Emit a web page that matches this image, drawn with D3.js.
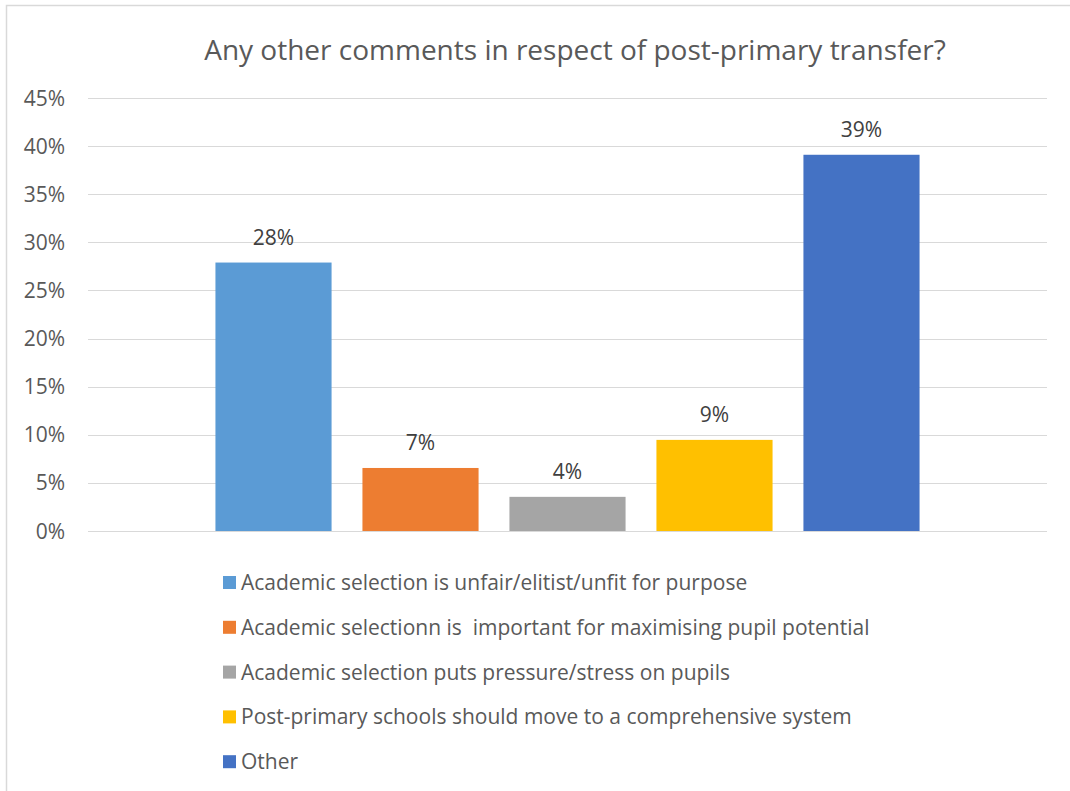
<!DOCTYPE html>
<html>
<head>
<meta charset="utf-8">
<script src="https://cdn.jsdelivr.net/npm/d3@7"></script>
<style>
  body { margin: 0; background: #fff; }
  text { font-family: "Open Sans", Lato, sans-serif; fill: #595959; }
</style>
</head>
<body>
<svg id="chart" width="1070" height="791"></svg>
<script>

// data
var categories = ["Academic selection is unfair/elitist/unfit for purpose",
                  "Academic selectionn is  important for maximising pupil potential",
                  "Academic selection puts pressure/stress on pupils",
                  "Post-primary schools should move to a comprehensive system",
                  "Other"];
var values = [0.279, 0.0655, 0.0355, 0.0947, 0.391];
var colors = ["#5b9bd5", "#ed7d31", "#a5a5a5", "#ffc000", "#4472c4"];
var yTicks = [0, 0.05, 0.10, 0.15, 0.20, 0.25, 0.30, 0.35, 0.40, 0.45];
var title = "Any other comments in respect of post-primary transfer?";

var svg = d3.select("#chart");

// chart border (only top and left edges are in the picture)
svg.append("path")
   .attr("d", "M6.5,791V5.5H1070")
   .attr("fill", "none")
   .attr("stroke", "#d9d9d9")
   .attr("stroke-width", 1.5);

var margin = {left: 88, right: 23, top: 98, bottom: 260};
var width = 1070 - margin.left - margin.right;
var innerHeight = 791 - margin.top - margin.bottom;

var g = svg.append("g").attr("transform", "translate(" + margin.left + "," + margin.top + ")");

var yScale = d3.scaleLinear().domain([0, 0.45]).range([innerHeight, 0]);

// one category, five series side by side
var xGroup = d3.scaleBand().domain(["all"]).range([0, width]).paddingInner(0).paddingOuter(0.181);
var xScale = d3.scaleBand().domain(d3.range(values.length))
               .range([xGroup("all"), xGroup("all") + xGroup.bandwidth()])
               .paddingInner(0.21).paddingOuter(0);

// gridlines
g.selectAll(".grid")
 .data(yTicks)
 .enter()
 .append("line")
 .attr("class", "grid")
 .attr("x1", 0).attr("x2", width)
 .attr("y1", d => Math.round(yScale(d)) + 0.5)
 .attr("y2", d => Math.round(yScale(d)) + 0.5)
 .attr("stroke", "#d9d9d9")
 .attr("stroke-width", 1);

// y axis labels
g.selectAll(".y-label")
 .data(yTicks)
 .enter()
 .append("text")
 .attr("class", "y-label")
 .attr("text-anchor", "end")
 .attr("x", -23)
 .attr("y", d => yScale(d) + 7.5)
 .style("font-size", "21px")
 .text(d => d3.format(".0%")(d));

// bars
g.selectAll(".bar")
 .data(values)
 .enter()
 .append("rect")
 .attr("class", "bar")
 .attr("x", (d, i) => xScale(i))
 .attr("width", xScale.bandwidth())
 .attr("y", d => yScale(d))
 .attr("height", d => innerHeight - yScale(d))
 .attr("fill", (d, i) => colors[i]);

// value labels
g.selectAll(".bar-value")
 .data(values)
 .enter()
 .append("text")
 .attr("class", "bar-value")
 .attr("text-anchor", "middle")
 .attr("x", (d, i) => xScale(i) + xScale.bandwidth() / 2)
 .attr("y", d => yScale(d) - 18)
 .style("font-size", "21px")
 .style("fill", "#404040")
 .text(d => d3.format(".0%")(d));

// title
svg.append("text")
   .attr("x", 575)
   .attr("y", 60)
   .attr("text-anchor", "middle")
   .style("font-size", "28px")
   .text(title);

// legend
var legend = svg.append("g").attr("transform", "translate(223,582.5)");
var row = legend.selectAll(".legend")
                .data(categories)
                .enter()
                .append("g")
                .attr("class", "legend")
                .attr("transform", (d, i) => "translate(0," + i * 44.8 + ")");
row.append("rect")
   .attr("x", 0).attr("y", -6.5)
   .attr("width", 13).attr("height", 13)
   .attr("fill", (d, i) => colors[i]);
row.append("text")
   .attr("x", 18)
   .attr("y", 7.5)
   .style("font-size", "21px")
   .style("white-space", "pre")
   .text(d => d);

</script>
</body>
</html>
